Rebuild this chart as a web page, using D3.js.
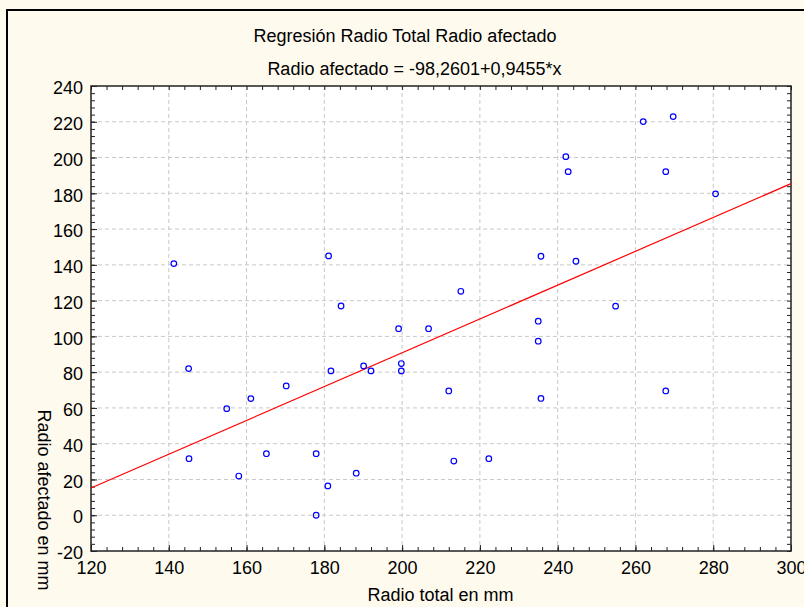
<!DOCTYPE html>
<html><head><meta charset="utf-8">
<script src="https://cdn.jsdelivr.net/npm/d3@7"></script>
<style>
html,body{margin:0;padding:0;background:#fefaee;}
svg{display:block;font-family:"Liberation Sans",Arial,sans-serif;}
</style></head><body>
<svg id="c" width="804" height="607"></svg>
<script>
const titleText = "Regresión Radio Total Radio afectado";
const subtitleText = "Radio afectado = -98,2601+0,9455*x";
const xLabel = "Radio total en mm";
const yLabel = "Radio afectado en mm";
const intercept = -98.2601;
const slope = 0.9455;
const xTicks = [120,140,160,180,200,220,240,260,280,300];
const yTicks = [-20,0,20,40,60,80,100,120,140,160,180,200,220,240];
const radioTotal = [141.3,145.1,145.2,154.9,158.0,161.1,165.1,170.2,177.9,177.9,181.1,180.9,181.7,184.3,188.2,190.1,192.0,199.1,199.8,199.8,206.8,212.0,213.3,215.1,222.3,235.0,235.0,235.7,235.7,242.1,242.7,244.7,254.9,262.0,267.8,267.8,269.7,280.6];
const radioAfectado = [140.7,82.0,31.6,59.6,21.9,65.2,34.4,72.3,34.4,0,145.0,16.4,80.7,117.0,23.5,83.5,80.7,104.3,84.8,80.7,104.3,69.5,30.3,125.2,31.6,108.5,97.3,65.3,144.8,200.5,192.1,142.0,116.9,220.1,69.5,192.1,222.9,179.7];

const svg = d3.select("#c");
const L=91, R=791, T=86, B=551;
const FS = 18;
const x = d3.scaleLinear().domain([120,300]).range([L,R]);
const y = d3.scaleLinear().domain([-20,240]).range([B,T]);

// outer border
svg.append("rect").attr("x",7).attr("y",10).attr("width",810).attr("height",610)
  .attr("fill","#fefaee").attr("stroke","#000").attr("stroke-width",2);

// plot area
svg.append("rect").attr("x",L).attr("y",T).attr("width",R-L).attr("height",B-T).attr("fill","#fff");

// grid
const g = svg.append("g");
g.selectAll("line.gx").data(xTicks.slice(1,-1)).join("line")
  .attr("x1",d=>x(d)).attr("x2",d=>x(d)).attr("y1",T).attr("y2",B)
  .attr("stroke","#c8c8c8").attr("stroke-dasharray","4,3");
g.selectAll("line.gy").data(yTicks.slice(1,-1)).join("line")
  .attr("y1",d=>y(d)).attr("y2",d=>y(d)).attr("x1",L).attr("x2",R)
  .attr("stroke","#c8c8c8").attr("stroke-dasharray","4,3");

// minor ticks
const xMinor = d3.range(120,300.01,4);
const yMinor = d3.range(-20,240.01,4);
function ticks(axisGen, tr, minor){
  const a = svg.append("g").attr("transform",tr);
  a.call(axisGen.tickValues(minor).tickSize(-4).tickFormat(""));
  a.select(".domain").remove();
  a.selectAll("line").attr("stroke","#222");
}
ticks(d3.axisBottom(x), `translate(0,${B})`, xMinor);
ticks(d3.axisTop(x), `translate(0,${T})`, xMinor);
ticks(d3.axisLeft(y), `translate(${L},0)`, yMinor);
ticks(d3.axisRight(y), `translate(${R},0)`, yMinor);

// major ticks & labels
const fmt = d => String(d);
const xb = svg.append("g").attr("transform",`translate(0,${B})`)
  .call(d3.axisBottom(x).tickValues(xTicks).tickFormat(fmt).tickSize(-6).tickPadding(10.5));
const yl = svg.append("g").attr("transform",`translate(${L},0)`)
  .call(d3.axisLeft(y).tickValues(yTicks).tickFormat(fmt).tickSize(-6).tickPadding(8));
[xb,yl].forEach(a=>{
  a.select(".domain").remove();
  a.selectAll("line").attr("stroke","#222");
  a.selectAll("text").attr("font-size",FS).attr("fill","#000")
    .attr("font-family","'Liberation Sans',Arial,sans-serif");
});
yl.selectAll("text").attr("dy","0.43em");

// frame
svg.append("rect").attr("x",L).attr("y",T).attr("width",R-L).attr("height",B-T)
  .attr("fill","none").attr("stroke","#222").attr("stroke-width",1.5);

// regression line
svg.append("line")
  .attr("x1",x(120)).attr("y1",y(intercept+slope*120))
  .attr("x2",x(300)).attr("y2",y(intercept+slope*300))
  .attr("stroke","#ff0000").attr("stroke-width",1.2);

// points
svg.append("g").selectAll("circle").data(radioTotal.map((v,i)=>[v,radioAfectado[i]])).join("circle")
  .attr("cx",d=>x(d[0])).attr("cy",d=>y(d[1])).attr("r",2.8)
  .attr("fill","none").attr("stroke","#0000ff").attr("stroke-width",1.2);

// titles
svg.append("text").attr("x",405).attr("y",41.5).attr("text-anchor","middle")
  .attr("font-size",FS).text(titleText);
svg.append("text").attr("x",414.5).attr("y",75).attr("text-anchor","middle")
  .attr("font-size",FS).text(subtitleText);
svg.append("text").attr("x",440.5).attr("y",601).attr("text-anchor","middle")
  .attr("font-size",FS).text(xLabel);
svg.append("text").attr("transform","translate(38,500) rotate(90)").attr("text-anchor","middle")
  .attr("font-size",FS).text(yLabel);
</script>
</body></html>
